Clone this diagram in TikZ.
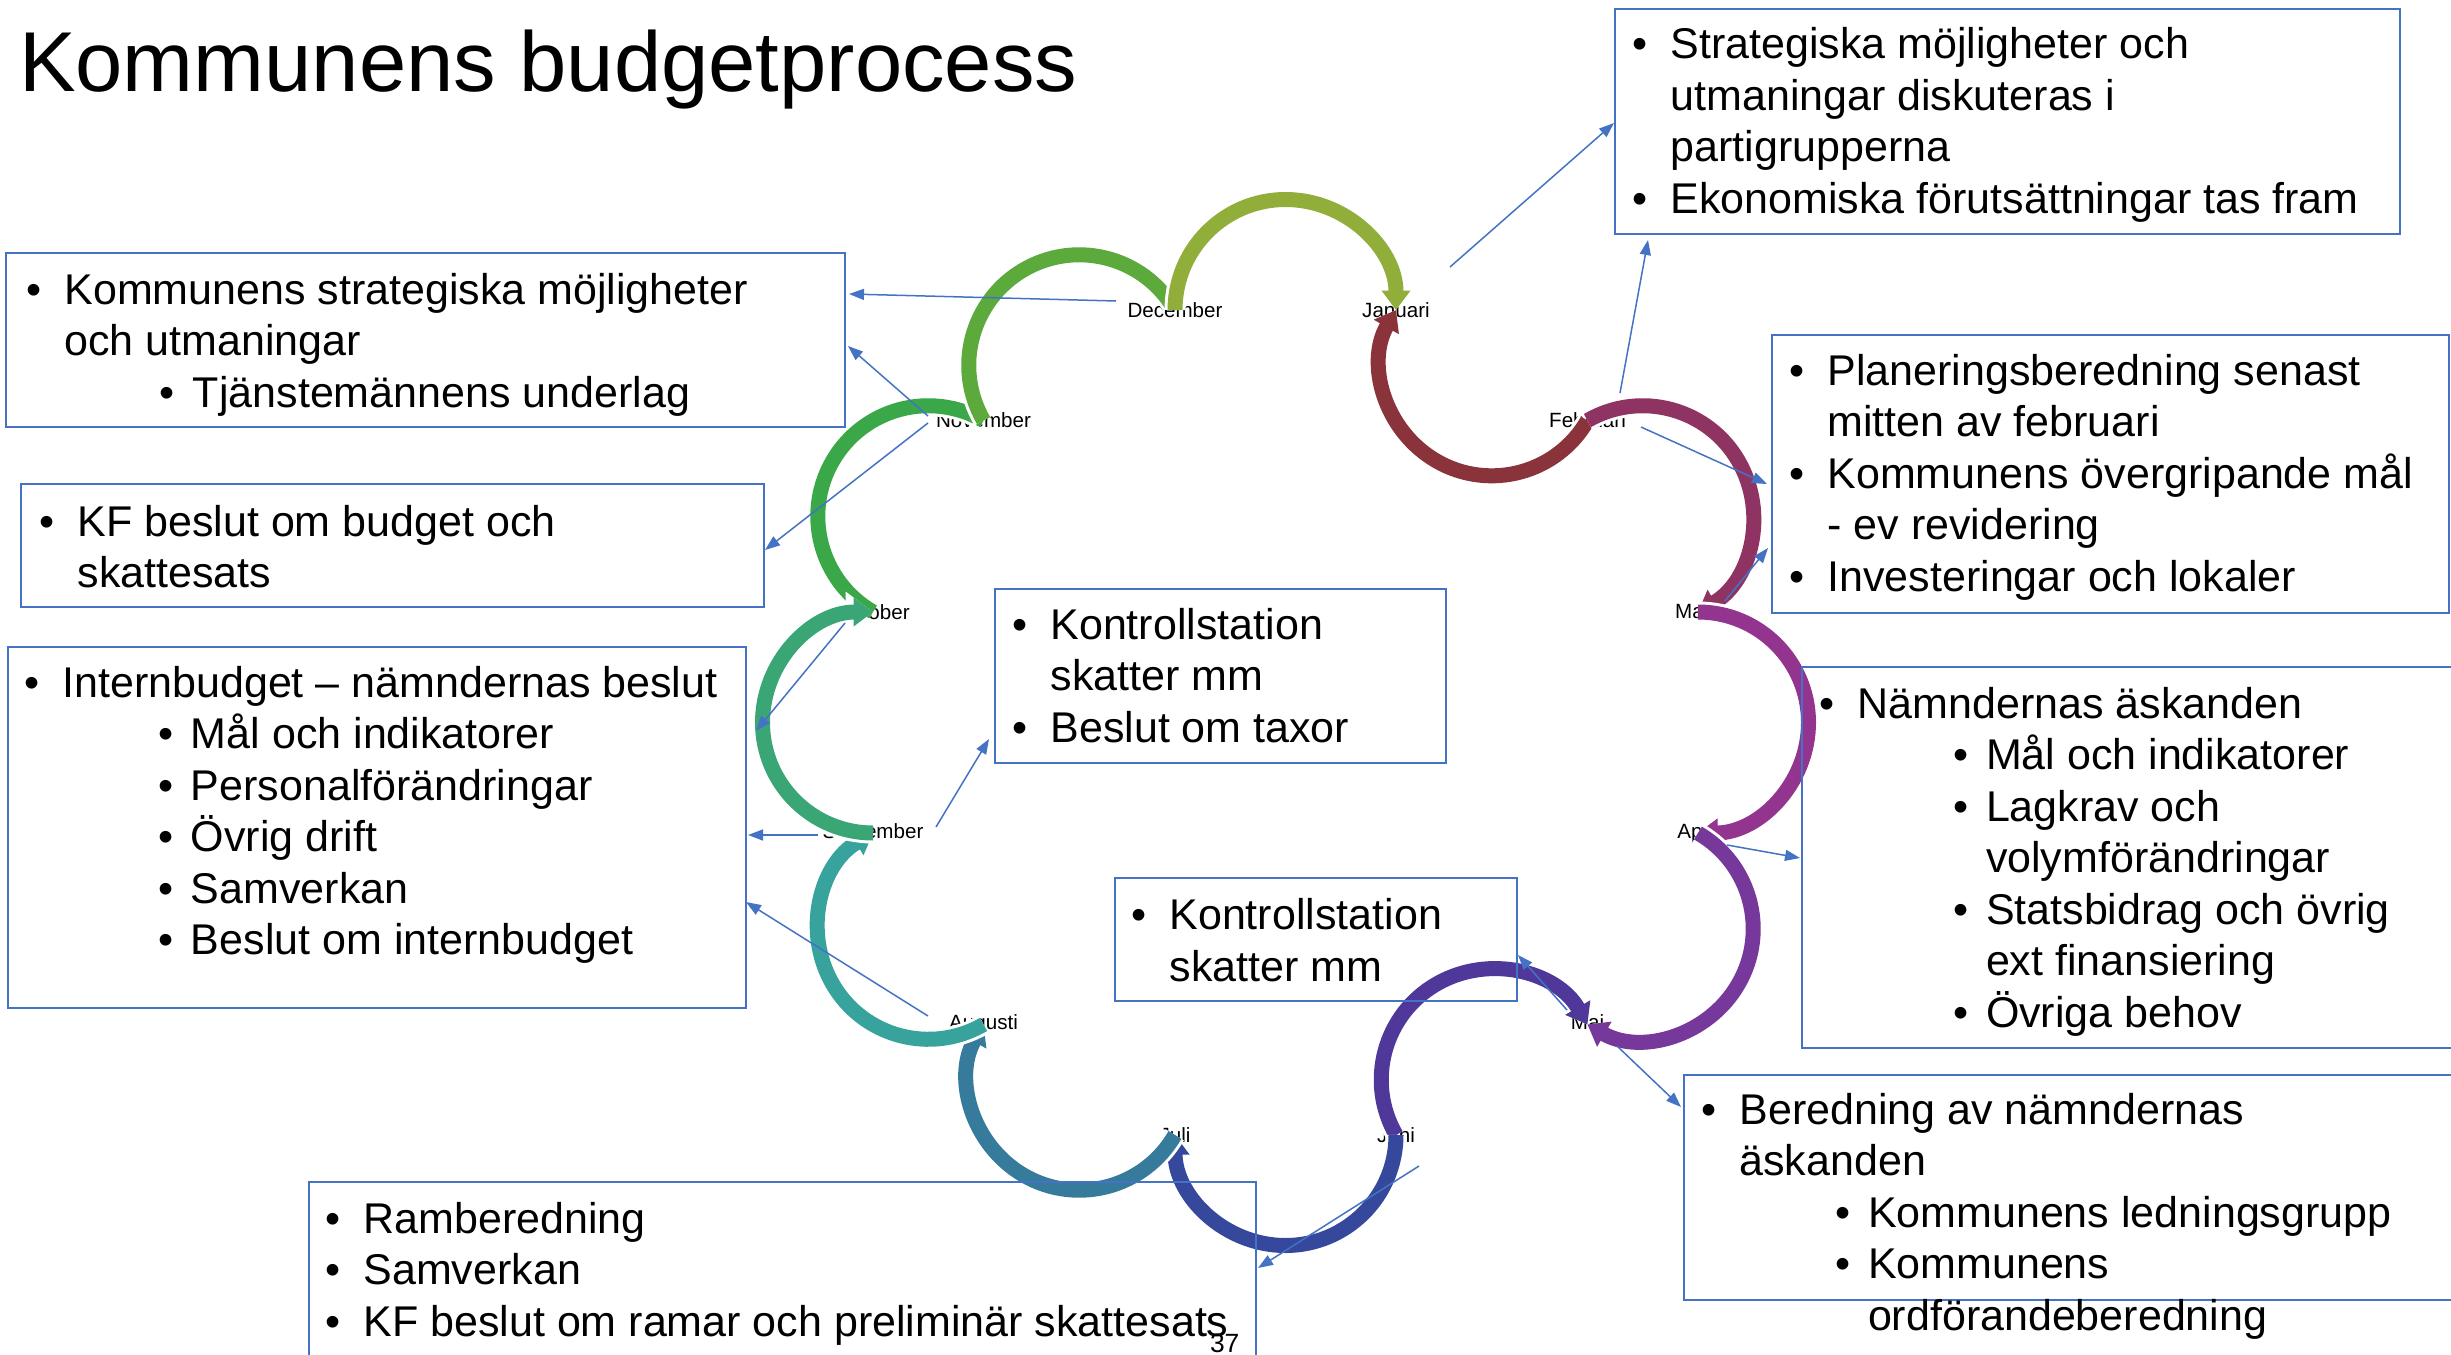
\documentclass[tikz,border=0pt]{standalone}
\usepackage{fontspec}
\setmainfont{Liberation Sans}
\usetikzlibrary{arrows.meta,fit}
\definecolor{bl}{HTML}{4472C4}
\definecolor{cOktNov}{HTML}{3AA848}
\definecolor{cNovDec}{HTML}{5BAA3B}
\definecolor{cDecJan}{HTML}{92AE3A}
\definecolor{cJanFeb}{HTML}{8B333B}
\definecolor{cFebMar}{HTML}{8F3462}
\definecolor{cMarApr}{HTML}{93348E}
\definecolor{cAprMaj}{HTML}{76389A}
\definecolor{cMajJun}{HTML}{4F3899}
\definecolor{cJunJul}{HTML}{35489B}
\definecolor{cJulAug}{HTML}{367A9C}
\definecolor{cAugSep}{HTML}{38A39C}
\definecolor{cSepOkt}{HTML}{3AA675}
\newlength\bw \setlength\bw{14.75pt}
\newlength\sbo \setlength\sbo{64pt}
\newlength\sbw \setlength\sbw{15pt}
\newcommand\bitem[1]{\makebox[\bw][l]{\hspace{-4.5pt}•}#1}
\newcommand\citem[1]{\hspace*{\bw}#1}
\newcommand\sitem[1]{\hspace*{\sbo}\makebox[\sbw][l]{\hspace{-1.5pt}•}#1}
\newcommand\scitem[1]{\hspace*{\sbo}\hspace*{\sbw}#1}
\newcommand\btext[1]{\parbox[t]{600pt}{\fontsize{21.5pt}{25.75pt}\selectfont #1}}
\newcommand\cyc[5]{\draw[arcst,draw=#4,#5] ([shift={(#2:110.5)}]#1) arc[start angle=#2,end angle=#3,radius=110.5];}
\tikzset{
  box/.style={draw=bl,line width=1pt,inner sep=0pt,fill=none},
  txt/.style={anchor=base west,inner sep=0pt,outer sep=0pt},
  mon/.style={inner sep=0pt,font=\fontsize{10.3pt}{12pt}\selectfont},
  arcst/.style={line width=7.5pt,preaction={draw=white,line width=10.5pt}},
  tip/.style={-{Triangle[length=0pt 1.3,width=0pt 1.85]}},
  flat/.style={},
  conn/.style={draw=bl,line width=0.75pt,-{Triangle[length=7.5pt,width=5.5pt]}}
}
\begin{document}
\begin{tikzpicture}[x=0.5pt,y=-0.5pt]
\useasboundingbox (0,0) rectangle (2451,1354);
\clip (0,0) rectangle (2451,1354);
% title
\node[txt,font=\fontsize{42.5pt}{50pt}\selectfont] (title) at (19,92) {Kommunens budgetprocess};
% month labels
\node[mon] (jan) at (1396,310) {Januari};
\node[mon] (feb) at (1587.5,420.5) {Februari};
\node[mon] (mar) at (1698,612) {Mars};
\node[mon] (apr) at (1698,833) {April};
\node[mon] (maj) at (1587.5,1024.5) {Maj};
\node[mon] (jun) at (1396,1135) {Juni};
\node[mon] (jul) at (1175,1135) {Juli};
\node[mon] (aug) at (983.5,1024.5) {Augusti};
\node[mon] (sep) at (873,833) {September};
\node[mon] (okt) at (873,612) {Oktober};
\node[mon] (nov) at (983.5,420.5) {November};
\node[mon] (dec) at (1175,310) {December};
% arcs
\cyc{928.3,516.25}{120}{300}{cOktNov}{flat}
\cyc{1079.25,365.3}{150}{326}{cNovDec}{flat}
\cyc{1285.5,310}{180}{360}{cDecJan}{tip}
\cyc{1491.75,365.3}{30}{210}{cJanFeb}{tip}
\cyc{1642.7,516.25}{240}{420}{cFebMar}{tip}
\cyc{1698,722.5}{-90}{90}{cMarApr}{tip}
\cyc{1642.7,928.75}{-60}{120}{cAprMaj}{tip}
\cyc{1491.75,1079.7}{150}{330}{cMajJun}{tip}
\cyc{1285.5,1135}{0}{180}{cJunJul}{tip}
\cyc{1079.25,1079.7}{30}{210}{cJulAug}{tip}
\cyc{928.3,928.75}{60}{240}{cAugSep}{tip}
\cyc{873,722.5}{90}{270}{cSepOkt}{tip}
% boxes
\node[box,fit={(1615,9) (2400,234)}] (boxA) {};
\node[box,fit={(6,253) (845,427)}] (boxB) {};
\node[box,fit={(21,484) (764,607)}] (boxC) {};
\node[box,fit={(8,647) (746,1008)}] (boxD) {};
\node[box,fit={(995,589) (1446,763)}] (boxE) {};
\node[box,fit={(1115,878) (1517,1001)}] (boxF) {};
\node[box,fit={(309,1182) (1256,1370)}] (boxG) {};
\node[box,fit={(1772,335) (2449,613)}] (boxH) {};
\node[box,fit={(1802,667) (2470,1048)}] (boxI) {};
\node[box,fit={(1684,1075) (2470,1300)}] (boxJ) {};
% box texts
\node[txt] (tA) at (1641,59) {\btext{\bitem{Strategiska möjligheter och}\\
\citem{utmaningar diskuteras i}\\
\citem{partigrupperna}\\
\bitem{Ekonomiska förutsättningar tas fram}}};
\node[txt] (tB) at (35,304) {\btext{\bitem{Kommunens strategiska möjligheter}\\
\citem{och utmaningar}\\
\sitem{Tjänstemännens underlag}}};
\node[txt] (tC) at (48,536) {\btext{\bitem{KF beslut om budget och}\\
\citem{skattesats}}};
\node[txt] (tD) at (33,697) {\btext{\bitem{Internbudget – nämndernas beslut}\\
\sitem{Mål och indikatorer}\\
\sitem{Personalförändringar}\\
\sitem{Övrig drift}\\
\sitem{Samverkan}\\
\sitem{Beslut om internbudget}}};
\node[txt] (tE) at (1021,639) {\btext{\bitem{Kontrollstation}\\
\citem{skatter mm}\\
\bitem{Beslut om taxor}}};
\node[txt] (tF) at (1140,929.5) {\btext{\bitem{Kontrollstation}\\
\citem{skatter mm}}};
\node[txt] (tG) at (334,1233) {\btext{\bitem{Ramberedning}\\
\bitem{Samverkan}\\
\bitem{KF beslut om ramar och preliminär skattesats}}};
\node[txt] (tH) at (1798,385) {\btext{\bitem{Planeringsberedning senast}\\
\citem{mitten av februari}\\
\bitem{Kommunens övergripande mål}\\
\citem{- ev revidering}\\
\bitem{Investeringar och lokaler}}};
\node[txt] (tI) at (1828,718) {\btext{\bitem{Nämndernas äskanden}\\
\sitem{Mål och indikatorer}\\
\sitem{Lagkrav och}\\
\scitem{volymförändringar}\\
\sitem{Statsbidrag och övrig}\\
\scitem{ext finansiering}\\
\sitem{Övriga behov}}};
\node[txt] (tJ) at (1710,1124) {\btext{\bitem{Beredning av nämndernas}\\
\citem{äskanden}\\
\sitem{Kommunens ledningsgrupp}\\
\sitem{Kommunens}\\
\scitem{ordförandeberedning}}};
\node[txt,font=\fontsize{13.2pt}{15pt}\selectfont] (pg) at (1210,1352) {37};
% connector end points
\coordinate (s1) at (1450,267);  \coordinate (e1) at (1614,123);
\coordinate (s2) at (1620,393);  \coordinate (e2) at (1648,240);
\coordinate (s3) at (1641,427);  \coordinate (e3) at (1767,484);
\coordinate (s4) at (1725,601);  \coordinate (e4) at (1768,548);
\coordinate (s5) at (1116,301);  \coordinate (e5) at (849,294);
\coordinate (s6) at (928,416);   \coordinate (e6) at (848,346);
\coordinate (s7) at (928,423);   \coordinate (e7) at (765,550);
\coordinate (s8) at (845,623);   \coordinate (e8) at (756,731);
\coordinate (s9) at (818,835);   \coordinate (e9) at (748,835);
\coordinate (s10) at (936,827);  \coordinate (e10) at (989,739);
\coordinate (s11) at (928,1016); \coordinate (e11) at (746,902);
\coordinate (s12) at (1727,845); \coordinate (e12) at (1800,858);
\coordinate (s13) at (1567,1010); \coordinate (e13) at (1518,955);
\coordinate (s14) at (1617,1046); \coordinate (e14) at (1681,1107);
\coordinate (s15) at (1419,1166); \coordinate (e15) at (1258,1268);
\foreach \i in {1,...,15} {\draw[conn] (s\i) -- (e\i);}
\end{tikzpicture}
\end{document}
